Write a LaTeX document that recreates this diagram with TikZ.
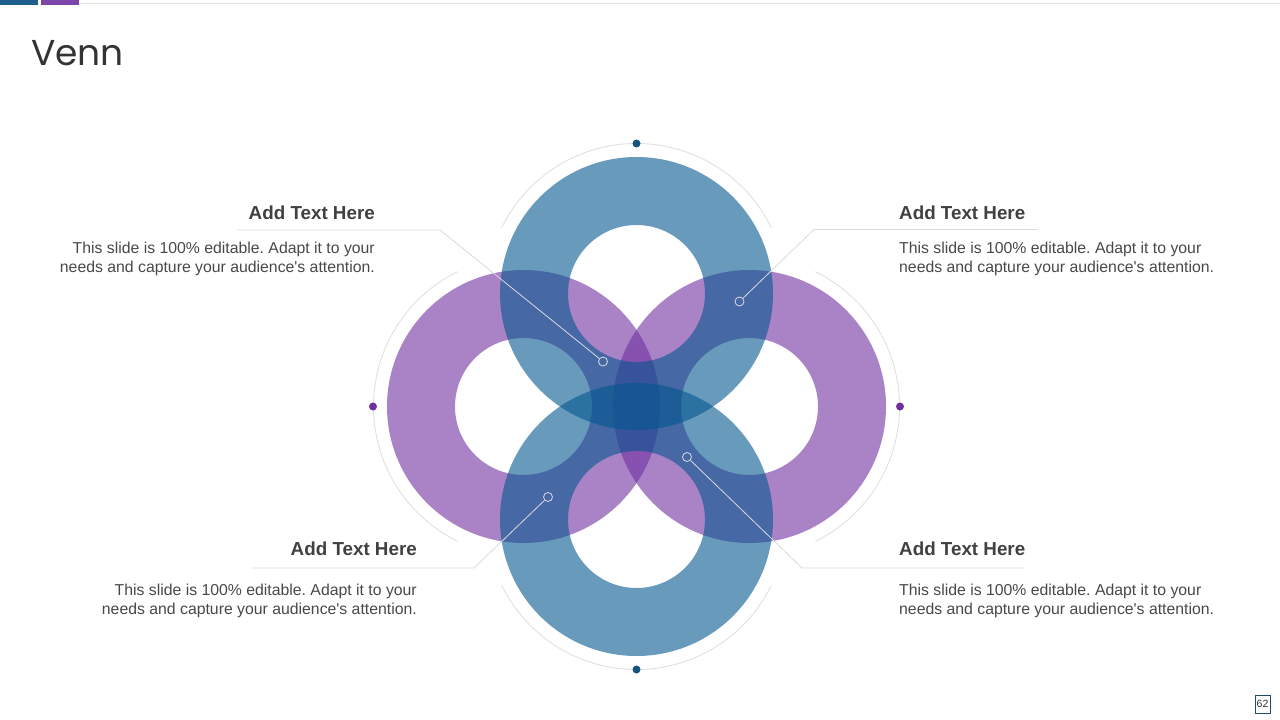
\documentclass[tikz,border=0pt]{standalone}
\usepackage{fontspec}
\setmainfont{Liberation Sans}
\newfontfamily\headfont{Poppins}
\frenchspacing
\definecolor{ringblue}{RGB}{3,87,143}
\definecolor{ringpurple}{RGB}{112,48,160}
\definecolor{dotblue}{RGB}{22,84,128}
\definecolor{dotpurple}{RGB}{112,48,160}
\definecolor{barblue}{RGB}{31,95,139}
\definecolor{barpurple}{RGB}{126,69,168}
\definecolor{txt}{RGB}{64,64,64}
\definecolor{bodytxt}{RGB}{72,72,72}
\definecolor{guide}{RGB}{218,218,224}
\definecolor{arcgray}{RGB}{224,224,224}
\definecolor{pagebox}{RGB}{31,78,95}
\tikzset{
  bluering/.style={fill=ringblue, fill opacity=0.6, even odd rule},
  purplering/.style={fill=ringpurple, fill opacity=0.6, even odd rule},
  arcline/.style={draw=arcgray, line width=0.9pt},
  conn/.style={draw=guide, line width=0.8pt},
  marker/.style={circle, draw=guide, line width=0.8pt, minimum size=9pt, inner sep=0pt},
  headtext/.style={font=\fontsize{18.8}{22}\selectfont\bfseries, text=txt, inner sep=0pt},
  bodytext/.style={font=\fontsize{15.8}{19}\selectfont, text=bodytxt, inner sep=0pt},
}
\begin{document}
\begin{tikzpicture}[x=1pt,y=-1pt]
\useasboundingbox (0,0) rectangle (1280,720);
% top bars
\fill[barblue] (0,0) rectangle (37.5,5);
\fill[barpurple] (40.5,0) rectangle (78.5,5);
\draw[arcgray, line width=0.8pt] (79,3.3) -- (1280,3.3);
% slide title
\node[anchor=base west, inner sep=0pt, font=\headfont\fontsize{36}{44}\selectfont, text=black!80] (title) at (31,65) {Venn};
% ring centres
\coordinate (ct) at (636.5,293.5);
\coordinate (cb) at (636.5,519.5);
\coordinate (cl) at (523.5,406.5);
\coordinate (cr) at (749.5,406.5);
% rings
\fill[purplering] (cl) circle (136.5pt) (cl) circle (68.5pt);
\fill[purplering] (cr) circle (136.5pt) (cr) circle (68.5pt);
\fill[bluering] (ct) circle (136.5pt) (ct) circle (68.5pt);
\fill[bluering] (cb) circle (136.5pt) (cb) circle (68.5pt);
% outer guide arcs
\draw[arcline] (ct) ++(26:150pt) arc[start angle=26, end angle=154, radius=150pt];
\draw[arcline] (cb) ++(206:150pt) arc[start angle=206, end angle=334, radius=150pt];
\draw[arcline] (cl) ++(116:150pt) arc[start angle=116, end angle=244, radius=150pt];
\draw[arcline] (cr) ++(-64:150pt) arc[start angle=-64, end angle=64, radius=150pt];
% dots
\fill[dotblue] (636.5,143.5) circle (4pt);
\fill[dotblue] (636.5,669.5) circle (4pt);
\fill[dotpurple] (373,406.5) circle (4pt);
\fill[dotpurple] (900,406.5) circle (4pt);
% connectors
\node[marker] (m1) at (603,361.5) {};
\node[marker] (m2) at (739.5,301.5) {};
\node[marker] (m3) at (548,497) {};
\node[marker] (m4) at (687,457) {};
\coordinate (k1) at (440,230);
\coordinate (e1) at (237,230);
\coordinate (k2) at (814,229.5);
\coordinate (e2) at (1037,229.5);
\coordinate (k3) at (474,568);
\coordinate (e3) at (252,568);
\coordinate (k4) at (802,568);
\coordinate (e4) at (1024,568);
\draw[conn] (e1) -- (k1) -- (m1);
\draw[conn] (e2) -- (k2) -- (m2);
\draw[conn] (e3) -- (k3) -- (m3);
\draw[conn] (e4) -- (k4) -- (m4);
% texts
\node[headtext, anchor=base east] (h1) at (375,219.5) {Add Text Here};
\node[bodytext, anchor=north east, align=right] (b1) at (375,241.5) {This slide is 100\% editable. Adapt it to your\\needs and capture your audience\textquotesingle s attention.};
\node[headtext, anchor=base west] (h2) at (899,219.5) {Add Text Here};
\node[bodytext, anchor=north west, align=left] (b2) at (899,241.5) {This slide is 100\% editable. Adapt it to your\\needs and capture your audience\textquotesingle s attention.};
\node[headtext, anchor=base east] (h3) at (417,555.5) {Add Text Here};
\node[bodytext, anchor=north east, align=right] (b3) at (417,583.5) {This slide is 100\% editable. Adapt it to your\\needs and capture your audience\textquotesingle s attention.};
\node[headtext, anchor=base west] (h4) at (899,555.5) {Add Text Here};
\node[bodytext, anchor=north west, align=left] (b4) at (899,583.5) {This slide is 100\% editable. Adapt it to your\\needs and capture your audience\textquotesingle s attention.};
% page number
\node[draw=pagebox, line width=0.8pt, minimum width=15pt, minimum height=18pt, inner sep=0pt, font=\fontsize{10.5}{12}\selectfont, text=black!80] (pg) at (1262.5,704) {62};
\end{tikzpicture}
\end{document}
